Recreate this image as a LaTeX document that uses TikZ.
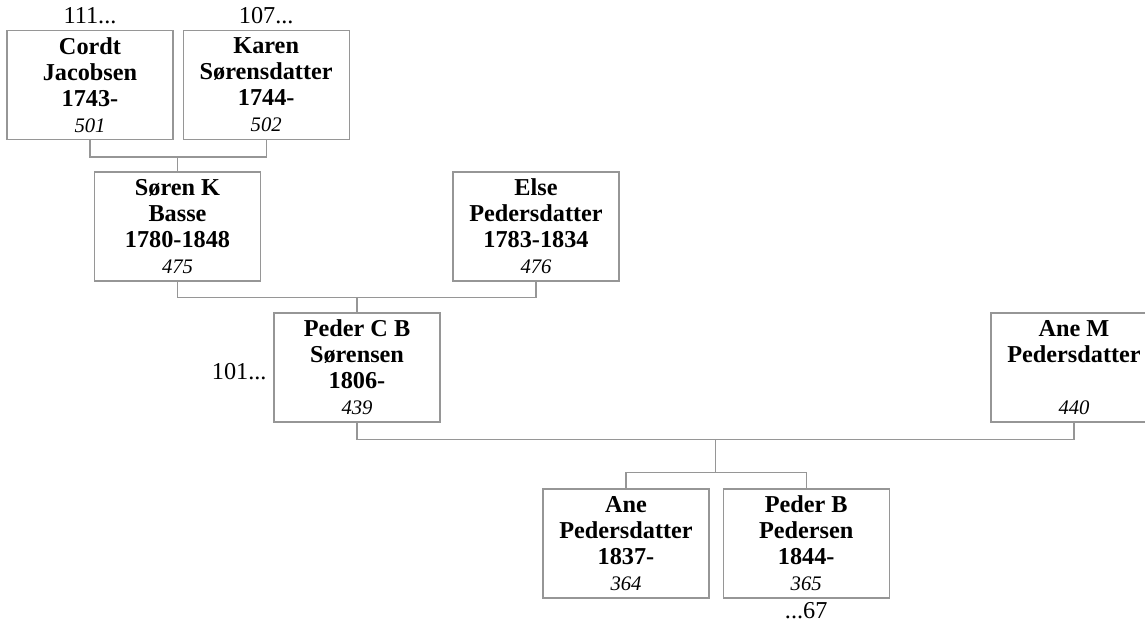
\documentclass[tikz,border=0pt]{standalone}
\usepackage{fontspec}
\setmainfont{Liberation Serif}
\usepackage{xcolor}
\usepackage{tikz}
\usetikzlibrary{positioning,calc}
\definecolor{treegray}{RGB}{150,150,150}
\newcommand{\pnum}[1]{{\fontsize{15.5}{19.5}\selectfont\mdseries\itshape #1}}

\begin{document}
\begin{tikzpicture}[x=0.75pt,y=-0.75pt,
  person/.style={draw=treegray,line width=0.9pt,align=center,inner sep=0pt,
    minimum width=124.5pt,minimum height=81.75pt,
    font=\fontsize{18.2}{19.5}\selectfont\bfseries},
  more/.style={inner sep=0pt,font=\fontsize{18.2}{19.5}\selectfont},
  link/.style={draw=treegray,line width=0.9pt}]
\useasboundingbox (0,0) rectangle (1145,623);
% grandparents
\node[person] (cordt) at (90,85) {Cordt\\Jacobsen\\1743-\\\pnum{501}};
\node[person,right=6.75pt of cordt] (karen) {Karen\\Sørensdatter\\1744-\\\pnum{502}};
% parents
\node[person] (soren) at (177.5,226.5) {Søren K\\Basse\\1780-1848\\\pnum{475}};
\node[person] (else) at (536,226.5) {Else\\Pedersdatter\\1783-1834\\\pnum{476}};
% couple
\node[person] (peder) at (357,367.5) {Peder C B\\Sørensen\\1806-\\\pnum{439}};
\node[person] (anem) at (1074,367.5) {Ane M\\Pedersdatter\\\mbox{}\\\pnum{440}};
% children
\node[person] (anep) at (626,543.5) {Ane\\Pedersdatter\\1837-\\\pnum{364}};
\node[person,right=9.75pt of anep] (pederb) {Peder B\\Pedersen\\1844-\\\pnum{365}};
% continuation marks
\node[more,above=4pt of cordt] (cordtup) {111...};
\node[more,above=4pt of karen] (karenup) {107...};
\node[more,left=5pt of peder,yshift=-3pt] (pederup) {101...};
\node[more,below=3pt of pederb] (pederbdown) {...67};
% lines
\path (cordt.south) ++(0,17) coordinate (j1);
\draw[link] (cordt.south) -- (cordt.south |- j1) -| (karen.south);
\draw[link] (soren.north) -- (soren.north |- j1);
\path (soren.south) ++(0,16) coordinate (j2);
\draw[link] (soren.south) -- (soren.south |- j2) -| (else.south);
\draw[link] (peder.north) -- (peder.north |- j2);
\path (peder.south) ++(0,17) coordinate (j3);
\draw[link] (peder.south) -- (peder.south |- j3) -| (anem.south);
\path (anep.north) ++(0,-16) coordinate (j4);
\draw[link] (anep.north) -- (anep.north |- j4) -| (pederb.north);
\coordinate (fam) at ($(peder.south |- j3)!0.5!(anem.south |- j3)$);
\draw[link] (fam) -- (fam |- j4);
\end{tikzpicture}
\end{document}
